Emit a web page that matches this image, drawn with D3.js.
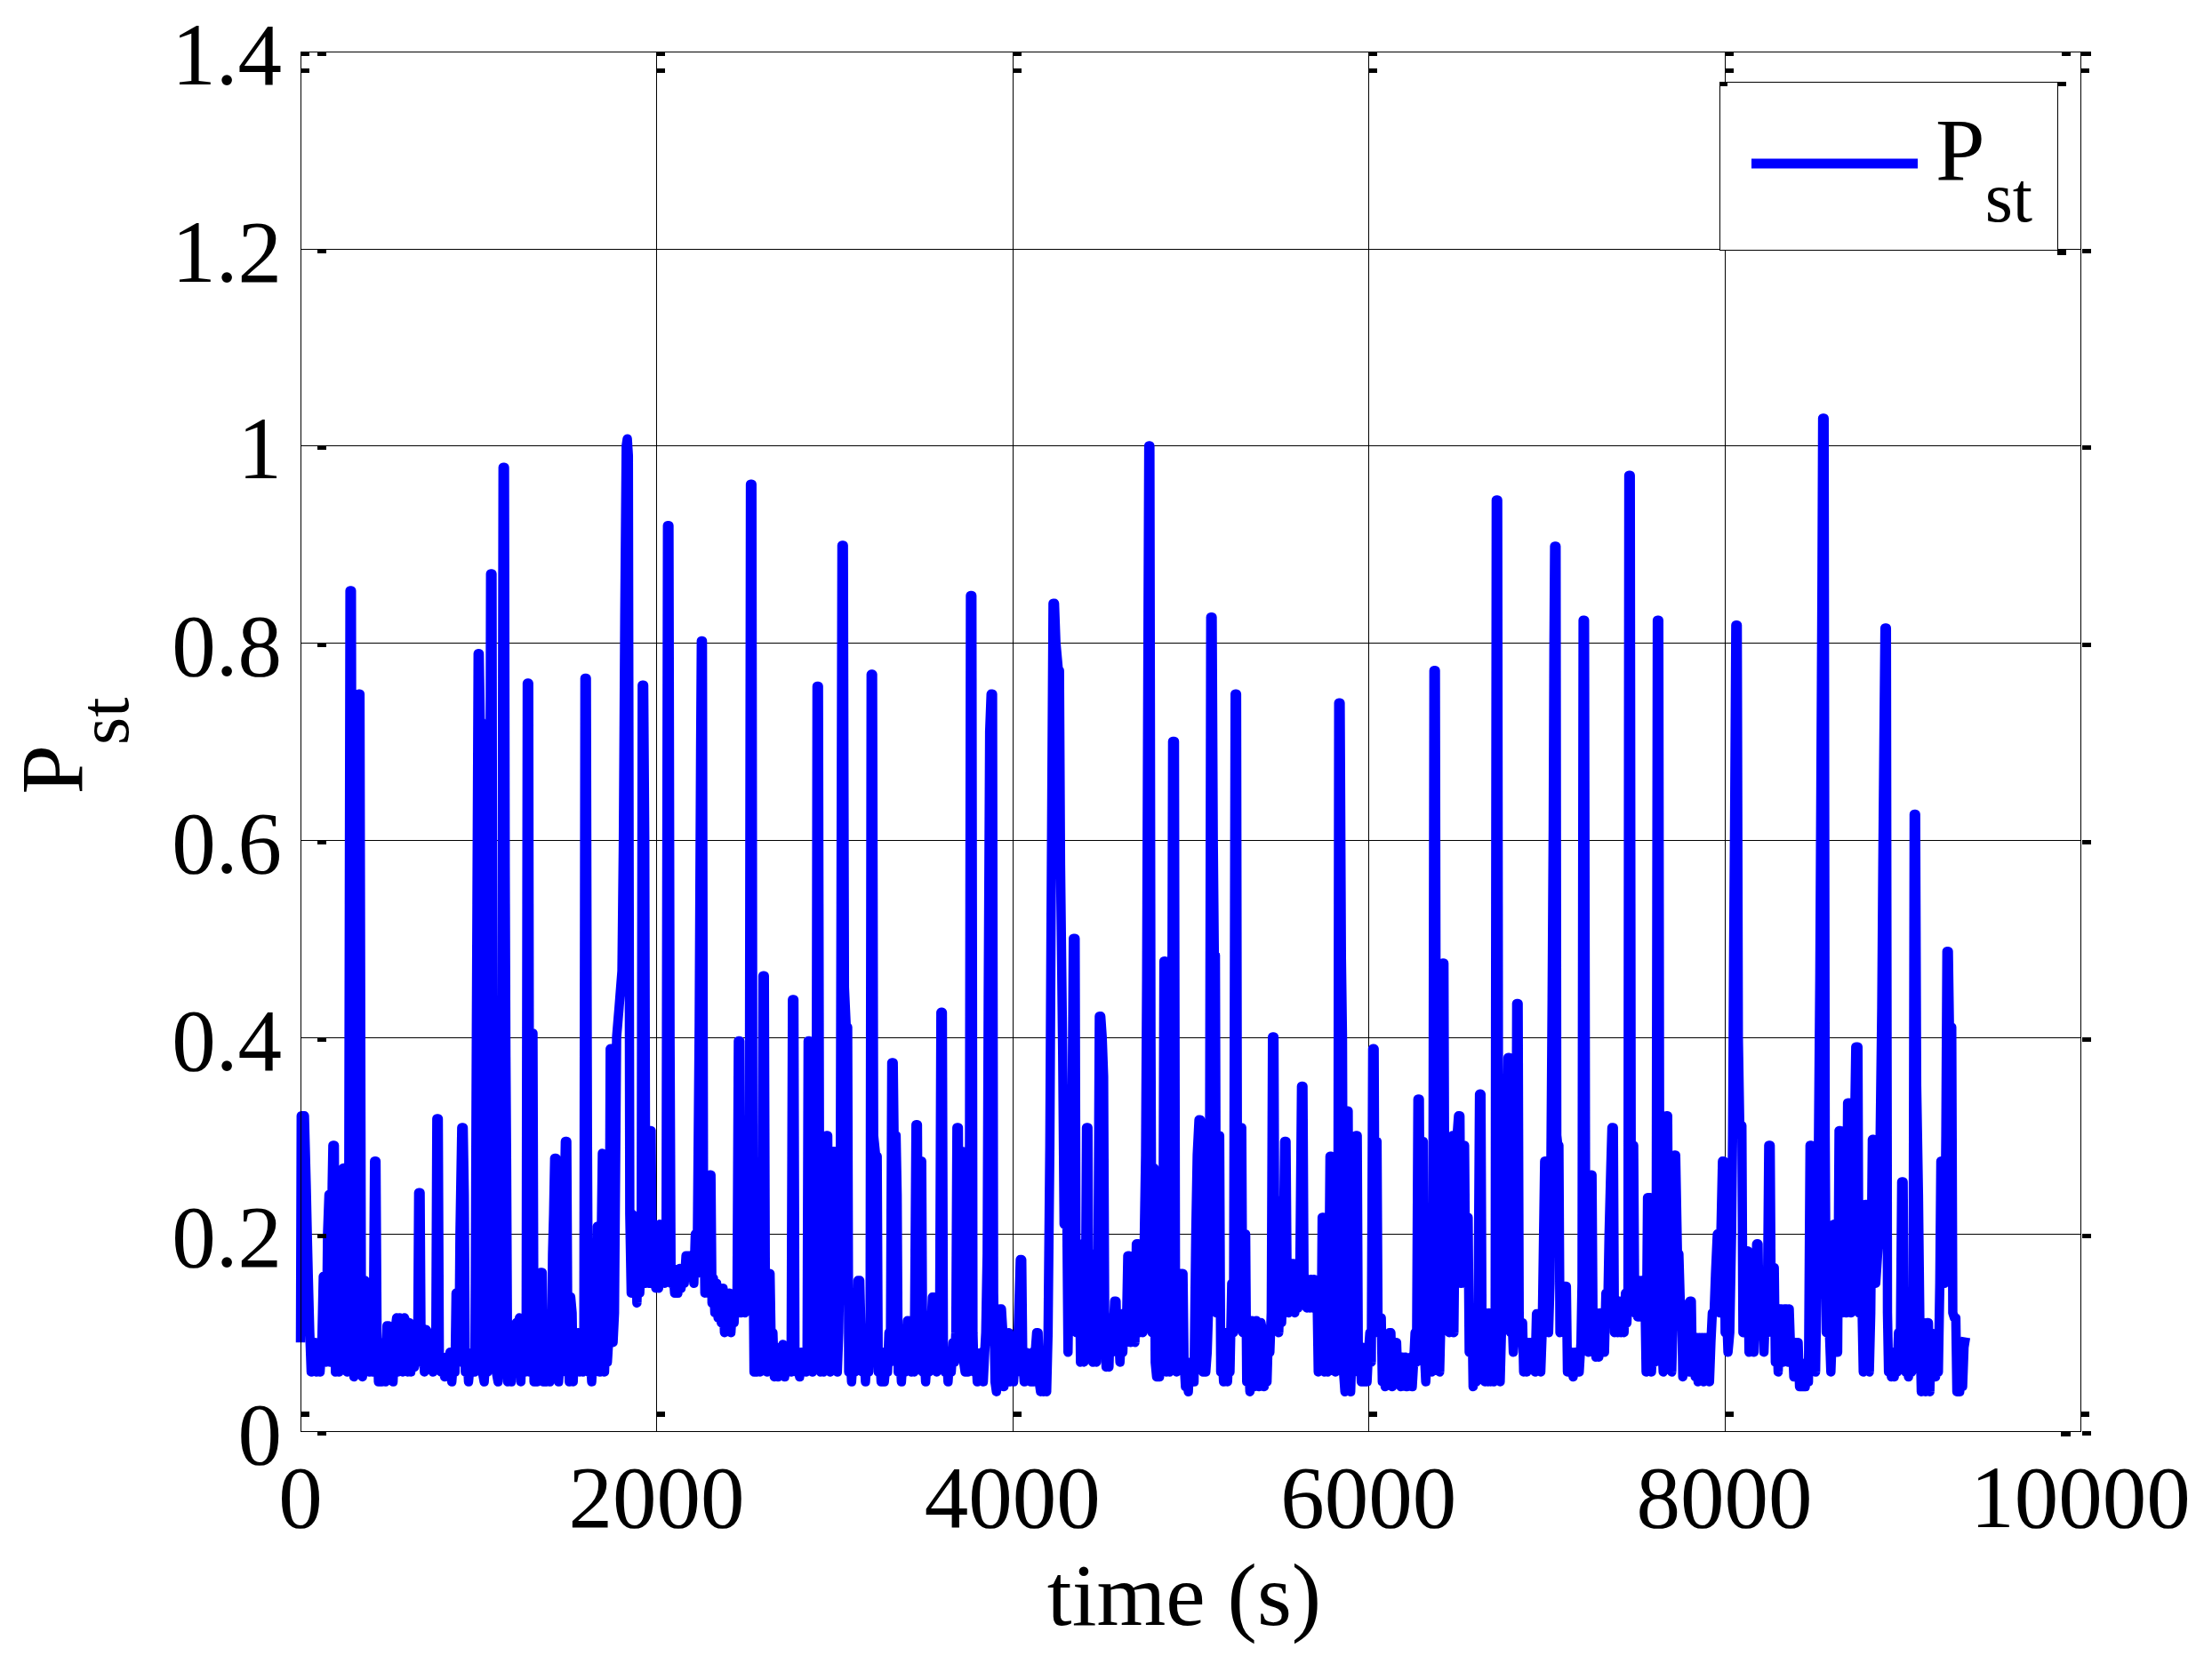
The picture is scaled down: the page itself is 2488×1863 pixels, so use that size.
<!DOCTYPE html>
<html><head><meta charset="utf-8">
<script src="https://cdn.jsdelivr.net/npm/d3@7"></script>
<style>html,body{margin:0;padding:0;background:#fff;} svg{display:block;}</style>
</head><body>
<svg id="chart" width="2488" height="1863"></svg>
<script>
// ---- data: [time (s), Pst] ----
const seg0 = [[0,0.09],[4,0.32],[22,0.32],[32,0.25],[38,0.20],[44,0.155],[52,0.10],[60,0.06],[70,0.08],[80,0.09],[90,0.06],[100,0.08],[110,0.06],[120,0.09],[128,0.157],[136,0.157],[144,0.07],[152,0.20],[160,0.24],[168,0.07],[178,0.25],[182,0.29],[190,0.29],[196,0.06],[206,0.08],[216,0.06],[226,0.09],[236,0.08],[240,0.267],[246,0.267],[252,0.07],[262,0.06],[270,0.14],[278,0.853],[286,0.853],[292,0.15],[300,0.055],[310,0.14],[326,0.748],[334,0.748],[342,0.12],[348,0.055],[356,0.10],[362,0.153],[370,0.15],[376,0.07],[386,0.06],[394,0.10],[402,0.06],[410,0.12],[416,0.274],[424,0.274],[430,0.10],[438,0.05],[448,0.08],[458,0.05],[468,0.09],[478,0.05],[486,0.107],[494,0.107],[502,0.06],[512,0.08],[520,0.05],[530,0.10],[540,0.115],[548,0.06],[556,0.115],[566,0.10],[574,0.06],[584,0.115],[594,0.11],[602,0.06],[612,0.11],[620,0.06],[630,0.09],[640,0.065],[650,0.08],[658,0.07],[664,0.242],[672,0.242],[678,0.07],[688,0.10],[696,0.06],[706,0.103],[716,0.10],[724,0.065],[734,0.09],[744,0.06],[752,0.09],[760,0.08],[766,0.317],[774,0.317],[780,0.07],[790,0.06],[800,0.075],[810,0.055],[820,0.075],[830,0.06],[840,0.08],[850,0.05],[860,0.075],[868,0.06],[874,0.14],[882,0.12],[890,0.07],[896,0.20],[906,0.308],[914,0.308],[920,0.24],[926,0.06],[936,0.08],[944,0.05],[954,0.07],[962,0.06],[972,0.08],[980,0.06],[988,0.40],[998,0.789],[1004,0.789]];
const seg1 = [[1010,0.72],[1016,0.72],[1022,0.06],[1032,0.05],[1042,0.08],[1050,0.06],[1058,0.15],[1068,0.87],[1076,0.87],[1082,0.146],[1092,0.146],[1100,0.06],[1110,0.05],[1120,0.08],[1128,0.07],[1138,0.978],[1146,0.978],[1150,0.575],[1154,0.38],[1158,0.27],[1164,0.05],[1176,0.08],[1184,0.05],[1194,0.10],[1202,0.06],[1212,0.11],[1220,0.06],[1230,0.115],[1238,0.05],[1246,0.10],[1254,0.08],[1262,0.06],[1268,0.12],[1274,0.759],[1282,0.759],[1288,0.06],[1298,0.404],[1306,0.404],[1312,0.05],[1322,0.07],[1330,0.05],[1340,0.10],[1350,0.161],[1358,0.161],[1364,0.05],[1374,0.07],[1382,0.05],[1392,0.07],[1400,0.05],[1410,0.08],[1416,0.18],[1422,0.22],[1428,0.277],[1436,0.277],[1442,0.10],[1450,0.05],[1460,0.08],[1468,0.06],[1476,0.18],[1488,0.294],[1496,0.294],[1502,0.09],[1510,0.05],[1518,0.136],[1526,0.12],[1532,0.05],[1542,0.10],[1550,0.06],[1560,0.10],[1568,0.06],[1578,0.10],[1586,0.06],[1592,0.10],[1598,0.764],[1606,0.764],[1612,0.30],[1618,0.06],[1628,0.08],[1636,0.05],[1646,0.09],[1654,0.06],[1662,0.12],[1668,0.208],[1676,0.208],[1682,0.06],[1690,0.20],[1696,0.282],[1702,0.25],[1708,0.06],[1716,0.10],[1724,0.07],[1734,0.10],[1740,0.388],[1748,0.388],[1756,0.09],[1764,0.12],[1776,0.40],[1790,0.43],[1806,0.467],[1814,0.60],[1822,0.83],[1830,1.0],[1836,1.007],[1842,0.99],[1850,0.22],[1858,0.14],[1866,0.22],[1874,0.14],[1882,0.20],[1890,0.13],[1898,0.18],[1906,0.14],[1914,0.18],[1920,0.757],[1928,0.757],[1934,0.60],[1940,0.15],[1948,0.20],[1956,0.15],[1962,0.305],[1970,0.305],[1976,0.15],[1982,0.21],[1990,0.21],[1996,0.145]];
const seg2 = [[2004,0.20],[2012,0.145],[2020,0.21],[2028,0.15],[2036,0.20],[2046,0.15],[2054,0.20],[2062,0.919],[2070,0.919],[2076,0.40],[2082,0.15],[2092,0.165],[2102,0.14],[2112,0.16],[2120,0.14],[2130,0.165],[2138,0.145],[2148,0.16],[2156,0.15],[2166,0.178],[2176,0.178],[2186,0.178],[2194,0.16],[2202,0.175],[2210,0.15],[2218,0.20],[2228,0.16],[2236,0.325],[2240,0.41],[2244,0.55],[2248,0.69],[2252,0.802],[2258,0.802],[2264,0.25],[2272,0.14],[2280,0.18],[2290,0.14],[2298,0.26],[2306,0.26],[2312,0.13],[2320,0.155],[2328,0.12],[2338,0.15],[2346,0.115],[2356,0.14],[2364,0.11],[2374,0.145],[2382,0.10],[2392,0.14],[2400,0.105],[2410,0.14],[2418,0.10],[2428,0.13],[2436,0.11],[2444,0.14],[2452,0.12],[2460,0.396],[2468,0.396],[2474,0.12],[2480,0.217],[2490,0.217],[2496,0.12],[2504,0.13],[2514,0.14],[2522,0.30],[2528,0.961],[2536,0.961],[2542,0.20],[2548,0.06],[2554,0.22],[2560,0.22],[2566,0.06],[2574,0.12],[2582,0.06],[2590,0.10],[2598,0.462],[2606,0.462],[2612,0.12],[2620,0.06],[2628,0.16],[2638,0.16],[2646,0.07],[2654,0.10],[2662,0.055],[2672,0.085],[2682,0.055],[2692,0.08],[2700,0.06],[2710,0.088],[2720,0.055],[2730,0.08],[2738,0.06],[2746,0.075],[2756,0.06],[2764,0.438],[2772,0.438],[2778,0.07],[2786,0.06],[2796,0.08],[2804,0.055],[2814,0.08],[2822,0.06],[2832,0.075],[2840,0.06],[2846,0.08],[2852,0.396],[2860,0.396],[2868,0.07],[2876,0.06],[2886,0.08],[2896,0.15],[2902,0.756],[2910,0.756],[2916,0.25],[2922,0.06],[2930,0.10],[2938,0.06],[2946,0.20],[2954,0.30],[2962,0.30],[2968,0.07],[2976,0.06],[2984,0.12],[2994,0.284],[3002,0.284],[3008,0.07]];
const seg3 = [[3016,0.06],[3024,0.10],[3032,0.20],[3042,0.899],[3050,0.899],[3056,0.45],[3066,0.41],[3074,0.41],[3080,0.06],[3088,0.08],[3096,0.05],[3106,0.08],[3114,0.06],[3124,0.09],[3132,0.153],[3142,0.153],[3150,0.09],[3156,0.06],[3166,0.08],[3174,0.05],[3184,0.08],[3192,0.06],[3200,0.09],[3206,0.768],[3214,0.768],[3220,0.30],[3232,0.279],[3240,0.279],[3246,0.06],[3254,0.08],[3262,0.05],[3272,0.08],[3280,0.05],[3290,0.07],[3298,0.06],[3306,0.10],[3314,0.07],[3322,0.374],[3330,0.374],[3336,0.28],[3346,0.30],[3352,0.24],[3358,0.06],[3368,0.08],[3376,0.05],[3386,0.08],[3396,0.06],[3404,0.09],[3410,0.112],[3416,0.112],[3424,0.07],[3432,0.06],[3440,0.09],[3448,0.06],[3458,0.311],[3466,0.311],[3472,0.10],[3482,0.274],[3490,0.274],[3496,0.06],[3504,0.08],[3512,0.05],[3522,0.08],[3530,0.06],[3540,0.09],[3550,0.136],[3558,0.136],[3568,0.09],[3574,0.06],[3582,0.10],[3590,0.07],[3598,0.425],[3606,0.425],[3612,0.08],[3620,0.06],[3630,0.08],[3638,0.05],[3648,0.08],[3656,0.06],[3666,0.09],[3674,0.07],[3682,0.10],[3688,0.308],[3696,0.308],[3702,0.12],[3712,0.284],[3720,0.284],[3726,0.07],[3734,0.06],[3742,0.08],[3750,0.06],[3758,0.20],[3764,0.848],[3772,0.848],[3778,0.10],[3784,0.06],[3794,0.08],[3802,0.05],[3812,0.075],[3820,0.055],[3828,0.08],[3836,0.05],[3844,0.08],[3850,0.10],[3858,0.18],[3864,0.44],[3872,0.71],[3880,0.748],[3888,0.748],[3894,0.14],[3902,0.05],[3910,0.04],[3920,0.10],[3930,0.124],[3938,0.124],[3946,0.10],[3952,0.045],[3962,0.10],[3970,0.05],[3980,0.10],[3988,0.05],[3998,0.09]];
const seg4 = [[4006,0.05],[4016,0.08],[4024,0.06],[4032,0.10],[4044,0.174],[4052,0.174],[4058,0.07],[4066,0.05],[4076,0.08],[4084,0.06],[4094,0.07],[4102,0.05],[4112,0.08],[4120,0.05],[4128,0.08],[4136,0.10],[4144,0.10],[4150,0.05],[4158,0.04],[4166,0.07],[4174,0.04],[4184,0.07],[4192,0.04],[4200,0.10],[4210,0.29],[4216,0.49],[4222,0.67],[4228,0.84],[4236,0.84],[4244,0.80],[4258,0.772],[4264,0.772],[4270,0.575],[4276,0.48],[4282,0.385],[4290,0.21],[4306,0.21],[4312,0.08],[4322,0.21],[4334,0.30],[4342,0.50],[4352,0.50],[4358,0.10],[4366,0.19],[4376,0.19],[4382,0.07],[4392,0.12],[4402,0.07],[4410,0.12],[4416,0.308],[4424,0.308],[4430,0.10],[4436,0.18],[4446,0.18],[4452,0.07],[4462,0.15],[4472,0.07],[4480,0.15],[4488,0.421],[4496,0.421],[4504,0.40],[4512,0.36],[4518,0.12],[4526,0.065],[4534,0.115],[4542,0.065],[4550,0.115],[4558,0.08],[4566,0.10],[4574,0.132],[4582,0.132],[4588,0.08],[4596,0.10],[4604,0.07],[4612,0.10],[4620,0.08],[4628,0.12],[4636,0.09],[4642,0.12],[4648,0.178],[4656,0.178],[4662,0.09],[4670,0.16],[4680,0.16],[4688,0.09],[4696,0.19],[4708,0.19],[4714,0.10],[4722,0.19],[4732,0.10],[4740,0.19],[4748,0.28],[4754,0.46],[4758,0.65],[4762,0.83],[4766,1.0],[4772,1.0],[4778,0.40],[4784,0.10],[4790,0.267],[4796,0.267],[4802,0.07],[4810,0.055],[4818,0.07],[4826,0.055],[4834,0.10],[4844,0.08],[4851,0.477],[4859,0.477],[4866,0.06],[4874,0.10],[4882,0.06],[4892,0.20],[4900,0.70],[4910,0.70],[4916,0.12],[4922,0.06],[4930,0.10],[4940,0.16],[4950,0.16],[4958,0.16],[4964,0.07],[4972,0.045],[4980,0.06],[4988,0.04],[4996,0.07]];
const seg5 = [[5004,0.05],[5012,0.07],[5020,0.05],[5030,0.20],[5038,0.28],[5048,0.316],[5056,0.316],[5062,0.08],[5070,0.06],[5078,0.08],[5086,0.06],[5094,0.08],[5106,0.15],[5114,0.826],[5122,0.826],[5128,0.60],[5134,0.483],[5140,0.483],[5146,0.12],[5154,0.30],[5164,0.30],[5170,0.06],[5178,0.08],[5186,0.05],[5194,0.10],[5202,0.10],[5208,0.05],[5216,0.08],[5222,0.06],[5232,0.15],[5242,0.10],[5251,0.748],[5259,0.748],[5265,0.12],[5272,0.15],[5280,0.308],[5288,0.308],[5294,0.10],[5302,0.20],[5310,0.20],[5316,0.05],[5326,0.08],[5334,0.04],[5344,0.112],[5352,0.10],[5360,0.045],[5370,0.112],[5378,0.10],[5386,0.045],[5396,0.11],[5406,0.10],[5414,0.045],[5422,0.08],[5430,0.05],[5438,0.10],[5446,0.08],[5454,0.12],[5461,0.40],[5469,0.40],[5475,0.12],[5482,0.234],[5490,0.234],[5496,0.10],[5504,0.15],[5512,0.11],[5520,0.15],[5529,0.294],[5537,0.294],[5543,0.15],[5550,0.12],[5558,0.17],[5568,0.17],[5578,0.17],[5586,0.12],[5594,0.15],[5604,0.125],[5614,0.15],[5624,0.35],[5632,0.35],[5638,0.15],[5646,0.154],[5654,0.125],[5662,0.154],[5670,0.125],[5678,0.154],[5686,0.125],[5694,0.154],[5702,0.125],[5710,0.153],[5718,0.06],[5726,0.10],[5734,0.08],[5740,0.217],[5748,0.217],[5754,0.06],[5762,0.09],[5770,0.06],[5778,0.15],[5784,0.279],[5792,0.279],[5798,0.15],[5806,0.10],[5814,0.06],[5822,0.08],[5828,0.12],[5833,0.739],[5841,0.739],[5848,0.48],[5854,0.40],[5860,0.06],[5868,0.04],[5876,0.325],[5886,0.325],[5892,0.06],[5900,0.04],[5910,0.10],[5918,0.06],[5924,0.10],[5929,0.30],[5937,0.30],[5943,0.08],[5952,0.085],[5960,0.05],[5968,0.085],[5976,0.05],[5984,0.085],[5992,0.05]];
const seg6 = [[6000,0.08],[6008,0.10],[6016,0.07],[6024,0.388],[6032,0.388],[6038,0.12],[6042,0.294],[6048,0.294],[6054,0.10],[6062,0.115],[6072,0.115],[6078,0.05],[6086,0.09],[6094,0.045],[6102,0.09],[6110,0.05],[6118,0.10],[6126,0.10],[6134,0.045],[6142,0.09],[6150,0.05],[6158,0.09],[6166,0.05],[6174,0.075],[6182,0.045],[6190,0.075],[6198,0.05],[6206,0.075],[6214,0.045],[6222,0.07],[6230,0.05],[6238,0.075],[6246,0.045],[6254,0.07],[6262,0.10],[6270,0.07],[6278,0.337],[6286,0.337],[6292,0.10],[6300,0.294],[6308,0.294],[6314,0.08],[6322,0.05],[6330,0.08],[6338,0.06],[6348,0.09],[6356,0.06],[6362,0.20],[6368,0.772],[6376,0.772],[6382,0.20],[6390,0.10],[6400,0.06],[6408,0.12],[6416,0.475],[6424,0.475],[6430,0.146],[6440,0.146],[6448,0.146],[6454,0.10],[6462,0.28],[6472,0.30],[6480,0.10],[6490,0.28],[6506,0.32],[6514,0.32],[6520,0.15],[6530,0.29],[6540,0.29],[6546,0.15],[6552,0.217],[6560,0.217],[6566,0.08],[6574,0.122],[6582,0.122],[6588,0.045],[6596,0.10],[6606,0.05],[6616,0.12],[6624,0.342],[6632,0.342],[6638,0.10],[6646,0.12],[6654,0.05],[6662,0.12],[6670,0.05],[6678,0.12],[6686,0.05],[6694,0.10],[6704,0.05],[6712,0.12],[6718,0.945],[6726,0.945],[6732,0.12],[6740,0.05],[6750,0.12],[6758,0.20],[6768,0.12],[6776,0.27],[6784,0.379],[6792,0.379],[6798,0.10],[6806,0.12],[6814,0.08],[6822,0.10],[6828,0.15],[6833,0.434],[6841,0.434],[6847,0.11],[6856,0.11],[6866,0.11],[6872,0.06],[6880,0.09],[6888,0.06],[6896,0.09],[6904,0.065],[6912,0.09],[6920,0.065],[6928,0.09],[6936,0.06],[6944,0.119],[6952,0.119],[6960,0.119],[6968,0.06],[6976,0.10],[6990,0.274],[6998,0.274],[7004,0.12]];
const seg7 = [[7012,0.10],[7020,0.15],[7032,0.44],[7038,0.61],[7042,0.79],[7046,0.898],[7054,0.898],[7058,0.30],[7064,0.29],[7070,0.29],[7076,0.10],[7084,0.147],[7094,0.147],[7104,0.147],[7112,0.147],[7118,0.06],[7126,0.08],[7134,0.06],[7142,0.08],[7150,0.055],[7158,0.08],[7166,0.06],[7174,0.08],[7184,0.06],[7194,0.09],[7200,0.15],[7206,0.823],[7214,0.823],[7220,0.20],[7226,0.10],[7236,0.08],[7244,0.12],[7250,0.26],[7256,0.26],[7262,0.10],[7270,0.12],[7278,0.075],[7286,0.12],[7294,0.075],[7302,0.12],[7310,0.08],[7318,0.12],[7326,0.08],[7334,0.14],[7344,0.12],[7352,0.20],[7362,0.27],[7368,0.308],[7376,0.308],[7382,0.10],[7392,0.132],[7400,0.10],[7410,0.132],[7418,0.10],[7428,0.132],[7436,0.10],[7444,0.14],[7452,0.11],[7458,0.14],[7463,0.97],[7471,0.97],[7477,0.15],[7484,0.29],[7490,0.29],[7496,0.12],[7504,0.153],[7512,0.116],[7520,0.153],[7528,0.116],[7536,0.153],[7544,0.116],[7552,0.153],[7560,0.06],[7568,0.237],[7576,0.237],[7584,0.237],[7590,0.06],[7598,0.10],[7608,0.07],[7616,0.12],[7623,0.823],[7631,0.823],[7637,0.15],[7646,0.10],[7656,0.06],[7664,0.12],[7673,0.32],[7681,0.32],[7687,0.12],[7694,0.10],[7704,0.06],[7712,0.12],[7718,0.28],[7726,0.28],[7736,0.18],[7744,0.18],[7752,0.13],[7760,0.13],[7766,0.055],[7774,0.08],[7782,0.06],[7792,0.09],[7800,0.06],[7806,0.132],[7814,0.132],[7820,0.06],[7828,0.095],[7836,0.055],[7844,0.095],[7852,0.05],[7860,0.095],[7868,0.055],[7876,0.095],[7884,0.05],[7892,0.095],[7900,0.055],[7908,0.095],[7916,0.05],[7924,0.09],[7932,0.12],[7942,0.12],[7950,0.16],[7960,0.20],[7972,0.12],[7980,0.20],[7989,0.274],[7997,0.274]];
const seg8 = [[8004,0.10],[8012,0.12],[8020,0.08],[8030,0.10],[8040,0.20],[8046,0.30],[8052,0.49],[8058,0.64],[8064,0.818],[8072,0.818],[8078,0.40],[8086,0.31],[8098,0.31],[8104,0.10],[8112,0.183],[8124,0.183],[8132,0.183],[8138,0.08],[8146,0.10],[8156,0.12],[8166,0.08],[8174,0.12],[8181,0.19],[8189,0.19],[8195,0.10],[8206,0.16],[8216,0.16],[8222,0.08],[8230,0.12],[8240,0.10],[8249,0.29],[8257,0.29],[8263,0.12],[8270,0.166],[8280,0.166],[8286,0.07],[8294,0.10],[8302,0.06],[8310,0.124],[8320,0.124],[8330,0.07],[8338,0.124],[8348,0.124],[8356,0.07],[8364,0.124],[8374,0.07],[8382,0.09],[8390,0.055],[8398,0.09],[8406,0.055],[8414,0.09],[8422,0.045],[8430,0.068],[8438,0.045],[8446,0.068],[8454,0.045],[8462,0.07],[8472,0.05],[8481,0.29],[8489,0.29],[8500,0.10],[8512,0.06],[8524,0.20],[8536,0.46],[8542,0.656],[8548,0.858],[8552,1.028],[8560,1.028],[8566,0.30],[8572,0.10],[8582,0.10],[8590,0.10],[8598,0.06],[8606,0.10],[8614,0.21],[8620,0.21],[8626,0.10],[8636,0.08],[8644,0.305],[8652,0.305],[8660,0.12],[8668,0.288],[8676,0.288],[8684,0.12],[8692,0.333],[8704,0.333],[8712,0.12],[8722,0.20],[8738,0.39],[8750,0.39],[8756,0.12],[8762,0.136],[8772,0.136],[8780,0.06],[8790,0.23],[8798,0.23],[8804,0.10],[8814,0.06],[8822,0.12],[8831,0.296],[8839,0.296],[8850,0.15],[8868,0.20],[8884,0.43],[8890,0.575],[8896,0.70],[8902,0.815],[8910,0.815],[8916,0.12],[8922,0.06],[8930,0.08],[8938,0.055],[8946,0.08],[8954,0.055],[8962,0.08],[8970,0.06],[8978,0.10],[8988,0.08],[8996,0.253],[9004,0.253]];
const seg9 = [[9010,0.08],[9018,0.06],[9026,0.08],[9034,0.055],[9042,0.12],[9052,0.06],[9060,0.12],[9066,0.626],[9074,0.626],[9080,0.35],[9090,0.24],[9098,0.11],[9106,0.04],[9114,0.11],[9122,0.11],[9130,0.04],[9138,0.11],[9146,0.11],[9154,0.04],[9162,0.10],[9170,0.06],[9178,0.095],[9186,0.055],[9194,0.095],[9202,0.06],[9210,0.15],[9216,0.274],[9226,0.274],[9236,0.15],[9244,0.30],[9250,0.487],[9258,0.487],[9264,0.41],[9277,0.41],[9283,0.12],[9292,0.115],[9300,0.115],[9306,0.04],[9314,0.07],[9322,0.04],[9330,0.08],[9338,0.045],[9346,0.085],[9355,0.095]];

const xTicks = [0, 2000, 4000, 6000, 8000, 10000];
const xTickLabels = ["0", "2000", "4000", "6000", "8000", "10000"];
const yTicks = [0, 0.2, 0.4, 0.6, 0.8, 1, 1.2, 1.4];
const yTickLabels = ["0", "0.2", "0.4", "0.6", "0.8", "1", "1.2", "1.4"];
const xLabel = "time (s)";
const seriesMain = "P", seriesSub = "st";

const data = [].concat(seg0, seg1, seg2, seg3, seg4, seg5, seg6, seg7, seg8, seg9);

// ---- layout ----
const FONT = "'Liberation Serif', 'Times New Roman', Times, serif";
const P = {left: 338, right: 2340, top: 58, bottom: 1610};
const x = d3.scaleLinear().domain([0, 10000]).range([P.left, P.right]);
const y = d3.scaleLinear().domain([0, 1.4]).range([P.bottom, P.top]);

const svg = d3.select("#chart");
svg.append("rect").attr("width", 2488).attr("height", 1863).attr("fill", "#fff");

// grid
const grid = svg.append("g").attr("stroke", "#000").attr("stroke-width", 1.2).attr("shape-rendering", "crispEdges");
grid.selectAll(".gx").data(xTicks.slice(1, -1)).enter().append("line")
  .attr("x1", d => Math.round(x(d)) + 0.5).attr("x2", d => Math.round(x(d)) + 0.5)
  .attr("y1", P.top).attr("y2", P.bottom);
grid.selectAll(".gy").data(yTicks.slice(1, -1)).enter().append("line")
  .attr("y1", d => Math.round(y(d)) + 0.5).attr("y2", d => Math.round(y(d)) + 0.5)
  .attr("x1", P.left).attr("x2", P.right);

// data line
const line = d3.line().x(d => x(d[0])).y(d => y(d[1]));
svg.append("path").datum(data).attr("d", line)
  .attr("fill", "none").attr("stroke", "#0000ff").attr("stroke-width", 10.5)
  .attr("stroke-linejoin", "round").attr("stroke-linecap", "butt");

// frame
svg.append("rect").attr("x", P.left + 0.5).attr("y", P.top + 0.5)
  .attr("width", P.right - P.left).attr("height", P.bottom - P.top)
  .attr("fill", "none").attr("stroke", "#000").attr("stroke-width", 1.5)
  .attr("shape-rendering", "crispEdges");

// small tick marks (as rendered in the reference)
const tk = svg.append("g").attr("fill", "#000").attr("shape-rendering", "crispEdges");
yTicks.forEach(v => {
  tk.append("rect").attr("x", x(0) + 19).attr("y", y(v)).attr("width", 10).attr("height", 5);
  tk.append("rect").attr("x", x(10000) + 2).attr("y", y(v)).attr("width", 10).attr("height", 5);
});
xTicks.forEach(t => {
  tk.append("rect").attr("x", x(t)).attr("y", y(1.4)).attr("width", 10).attr("height", 5);
  tk.append("rect").attr("x", x(t)).attr("y", y(1.4) + 19).attr("width", 10).attr("height", 5);
  tk.append("rect").attr("x", x(t)).attr("y", y(0) - 22).attr("width", 10).attr("height", 6);
});
tk.append("rect").attr("x", x(10000) - 21).attr("y", y(1.4)).attr("width", 10).attr("height", 5);
tk.append("rect").attr("x", x(10000) - 22).attr("y", y(0) + 1).attr("width", 11).attr("height", 5);

// tick labels
svg.append("g").selectAll("text").data(xTicks).enter().append("text")
  .attr("x", d => x(d)).attr("y", 1718).attr("text-anchor", "middle")
  .attr("font-family", FONT).attr("font-size", 99).attr("fill", "#000")
  .text((d, i) => xTickLabels[i]);
svg.append("g").selectAll("text").data(yTicks).enter().append("text")
  .attr("x", 317).attr("y", d => y(d) + 37).attr("text-anchor", "end")
  .attr("font-family", FONT).attr("font-size", 99).attr("fill", "#000")
  .text((d, i) => yTickLabels[i]);

// axis labels
svg.append("text").attr("x", 1332).attr("y", 1828).attr("text-anchor", "middle")
  .attr("font-family", FONT).attr("font-size", 100).attr("fill", "#000").text(xLabel);
const yl = svg.append("text").attr("transform", "translate(92,839) rotate(-90)")
  .attr("text-anchor", "middle").attr("font-family", FONT).attr("font-size", 100).attr("fill", "#000");
yl.append("tspan").text(seriesMain);
yl.append("tspan").attr("dy", 52).attr("font-size", 80).text(seriesSub);

// legend
const lg = svg.append("g");
lg.append("rect").attr("x", 1934.5).attr("y", 92.5).attr("width", 380).attr("height", 189)
  .attr("fill", "#fff").attr("stroke", "#000").attr("stroke-width", 1.5).attr("shape-rendering", "crispEdges");
lg.append("line").attr("x1", 1970).attr("x2", 2157).attr("y1", 184).attr("y2", 184)
  .attr("stroke", "#0000ff").attr("stroke-width", 11);
const lt = lg.append("text").attr("x", 2177).attr("y", 202)
  .attr("font-family", FONT).attr("font-size", 100).attr("fill", "#000");
lt.append("tspan").text(seriesMain);
lt.append("tspan").attr("dy", 47).attr("font-size", 80).text(seriesSub);
lg.append("rect").attr("x", 1934).attr("y", 92).attr("width", 9).attr("height", 5);
lg.append("rect").attr("x", 2314).attr("y", 92).attr("width", 10).attr("height", 5);
lg.append("rect").attr("x", 2314).attr("y", 281).attr("width", 10).attr("height", 6);
</script>
</body></html>
